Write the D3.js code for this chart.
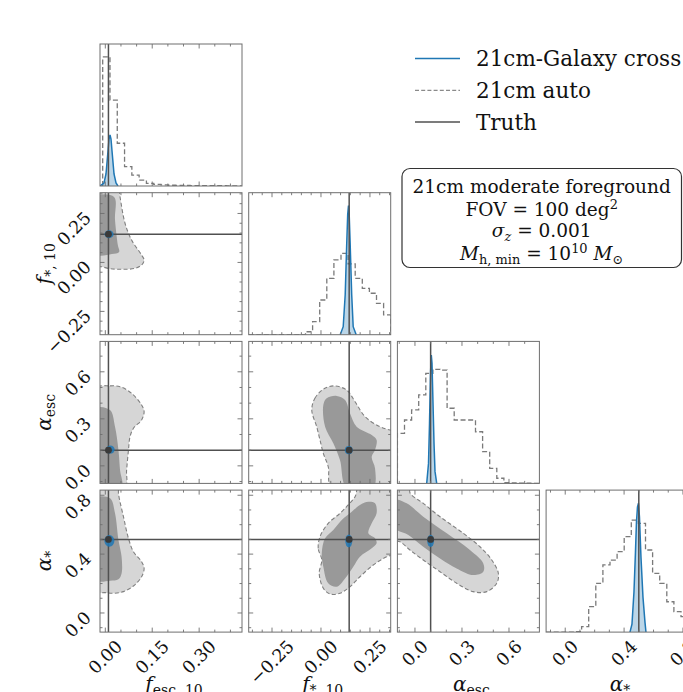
<!DOCTYPE html>
<html><head><meta charset="utf-8">
<script src="https://cdn.jsdelivr.net/npm/d3@7"></script>
<style>
body{margin:0;background:#fff}
svg{display:block}
text{font-family:"DejaVu Serif",serif;fill:#111}
</style></head>
<body><svg id="c" width="683" height="692"></svg>
<script>
// ---- parameters: f_esc,10 , f_*,10 , alpha_esc , alpha_*
const truthValues = [0.01, 0.144, 0.10, 0.50];
const axisRanges = [[-0.017, 0.437], [-0.369, 0.356], [-0.112, 0.794], [-0.13, 0.835]];
const majorTicks = [[0, 0.15, 0.30], [-0.25, 0, 0.25], [0, 0.3, 0.6], [0, 0.4, 0.8]];
const majorTickText = [["0.00", "0.15", "0.30"], ["\u22120.25", "0.00", "0.25"], ["0.0", "0.3", "0.6"], ["0.0", "0.4", "0.8"]];
const minorTickStep = [0.05, 0.05, 0.1, 0.1];

// ---- 21cm auto: 1D marginal step histograms (bin start, bin width, normalised counts)
const autoBinStart = [-0.0084, -0.369, -0.112, -0.13];
const autoBinWidth = [0.0233, 0.03625, 0.0453, 0.04825];
const autoCountsFesc = [1.0, 0.666, 0.331, 0.150, 0.085, 0.046, 0.021, 0.012, 0.008, 0.006, 0.005, 0.004, 0.003, 0.003, 0.002, 0.002, 0.002, 0.001, 0.001];
const autoCountsFstar = [0, 0, 0, 0, 0, 0, 0, 0, 0.023, 0.101, 0.269, 0.437, 0.579, 0.63, 0.548, 0.437, 0.359, 0.321, 0.243, 0.153];
const autoCountsAesc = [0.388, 0.491, 0.569, 0.685, 0.853, 0.884, 0.878, 0.582, 0.491, 0.491, 0.491, 0.40, 0.246, 0.117, 0.04, 0.006, 0.004, 0.002, 0.001, 0];
const autoCountsAstar = [0, 0, 0, 0, 0.004, 0.042, 0.197, 0.378, 0.52, 0.558, 0.623, 0.739, 0.868, 0.843, 0.636, 0.455, 0.378, 0.235, 0.158, 0.12];

// ---- 21cm-Galaxy cross: 1D marginals
const crossFescX = [-0.017, -0.0042, 0.0022, 0.0086, 0.0118, 0.015, 0.0182, 0.0214, 0.0278, 0.0342, 0.0405];
const crossFescY = [0, 0.023, 0.093, 0.271, 0.364, 0.395, 0.364, 0.271, 0.093, 0.023, 0];
const crossFstarX = [0.0982, 0.1135, 0.1237, 0.1313, 0.1364, 0.1405, 0.1441, 0.1492, 0.1569, 0.1645, 0.1798];
const crossFstarY = [0, 0.062, 0.31, 0.697, 0.93, 1.0, 0.93, 0.697, 0.31, 0.062, 0];
const crossAescX = [0.075, 0.0865, 0.0929, 0.0992, 0.1043, 0.1088, 0.1152, 0.1216, 0.1279, 0.1388];
const crossAescY = [0, 0.155, 0.465, 0.852, 0.995, 0.93, 0.62, 0.31, 0.093, 0];
const crossAstarX = [0.44, 0.4536, 0.4671, 0.4773, 0.4841, 0.4909, 0.4977, 0.5045, 0.5147, 0.5283, 0.5419, 0.5487];
const crossAstarY = [0, 0.062, 0.31, 0.62, 0.852, 0.968, 0.998, 0.891, 0.581, 0.271, 0.077, 0];

// ---- 21cm auto: 2D credible regions (outer = 95%, inner = 68%), keyed "x,y"
const autoOuter = {
  "0,1": [[-0.03,0.40],[0.04,0.40],[0.047,0.335],[0.063,0.20],[0.084,0.114],[0.116,0.038],[0.124,0.012],[0.116,-0.013],[0.095,-0.030],[0.058,-0.035],[0.015,-0.032],[-0.012,-0.022],[-0.03,-0.02]],
  "0,2": [[-0.03,0.495],[0.015,0.51],[0.047,0.505],[0.084,0.463],[0.116,0.388],[0.124,0.346],[0.116,0.293],[0.090,0.240],[0.079,0.186],[0.074,0.101],[0.068,-0.027],[0.063,-0.14],[-0.03,-0.14]],
  "0,3": [[-0.03,0.88],[0.041,0.88],[0.042,0.813],[0.058,0.654],[0.074,0.507],[0.090,0.416],[0.116,0.348],[0.124,0.303],[0.116,0.246],[0.090,0.183],[0.058,0.145],[0.026,0.134],[-0.001,0.138],[-0.03,0.145]],
  "1,2": [[-0.047,0.356],[-0.031,0.431],[0.012,0.489],[0.063,0.510],[0.131,0.484],[0.174,0.409],[0.225,0.314],[0.301,0.250],[0.352,0.229],[0.40,0.22],[0.40,-0.14],[0.055,-0.14],[0.037,-0.005],[0.012,0.08],[-0.005,0.165],[-0.022,0.250]],
  "1,3": [[0.004,0.360],[-0.014,0.439],[-0.005,0.518],[0.037,0.609],[0.097,0.677],[0.139,0.734],[0.174,0.790],[0.199,0.88],[0.40,0.88],[0.40,0.416],[0.335,0.382],[0.267,0.326],[0.199,0.246],[0.148,0.178],[0.097,0.134],[0.046,0.129],[0.012,0.168],[-0.009,0.270]],
  "2,3": [[-0.14,0.88],[-0.03,0.88],[-0.032,0.817],[0.053,0.745],[0.160,0.654],[0.309,0.541],[0.415,0.450],[0.490,0.360],[0.532,0.270],[0.522,0.202],[0.458,0.145],[0.372,0.145],[0.266,0.202],[0.160,0.280],[0.053,0.360],[-0.032,0.428],[-0.095,0.484],[-0.14,0.496]]
};
const autoInner = {
  "0,1": [[-0.03,0.334],[0.028,0.334],[0.031,0.217],[0.040,0.089],[0.044,0.053],[0.021,0.043],[-0.03,0.043]],
  "0,2": [[-0.03,0.367],[0.015,0.356],[0.031,0.250],[0.042,0.101],[0.047,-0.027],[0.052,-0.14],[-0.03,-0.14]],
  "0,3": [[-0.03,0.779],[0.015,0.779],[0.031,0.677],[0.042,0.496],[0.052,0.382],[0.052,0.269],[0.042,0.229],[0.015,0.219],[-0.03,0.224]],
  "1,2": [[0.012,0.388],[0.029,0.431],[0.080,0.446],[0.123,0.420],[0.148,0.335],[0.182,0.250],[0.259,0.197],[0.284,0.165],[0.276,0.101],[0.259,0.058],[0.276,-0.016],[0.267,-0.14],[0.131,-0.14],[0.097,0.037],[0.063,0.144],[0.021,0.250]],
  "1,3": [[0.012,0.314],[0.004,0.405],[0.021,0.507],[0.063,0.564],[0.106,0.632],[0.157,0.688],[0.199,0.734],[0.242,0.756],[0.276,0.745],[0.284,0.677],[0.259,0.609],[0.242,0.541],[0.276,0.507],[0.284,0.473],[0.259,0.439],[0.199,0.382],[0.165,0.314],[0.123,0.235],[0.080,0.178],[0.037,0.202]],
  "2,3": [[-0.14,0.767],[-0.053,0.745],[0.053,0.654],[0.203,0.541],[0.351,0.428],[0.436,0.337],[0.436,0.280],[0.372,0.258],[0.266,0.303],[0.160,0.371],[0.053,0.450],[-0.042,0.530],[-0.14,0.586]]
};
// ---- 21cm-Galaxy cross: compact 2D regions [centre x, centre y, half-width x, half-width y]
const crossEllipse = {
  "0,1": [0.012, 0.144, 0.0144, 0.020],
  "0,2": [0.016, 0.104, 0.014, 0.026],
  "0,3": [0.013, 0.49, 0.016, 0.040],
  "1,2": [0.142, 0.100, 0.020, 0.026],
  "1,3": [0.142, 0.49, 0.018, 0.044],
  "2,3": [0.100, 0.49, 0.022, 0.041]
};

const legendItems = ["21cm-Galaxy cross", "21cm auto", "Truth"];

// ---------------- layout ----------------
const S = 142;
const colLeft = [100, 248.7, 397.4, 546.1];
const rowTop = [44, 192.7, 341.4, 490.1];
const BLUE = "#1f77b4", TRUTH = "#505050", FRAME = "#6e6e6e";

const svg = d3.select("#c");
const defs = svg.append("defs");

const xs = axisRanges.map((r, i) => d3.scaleLinear().domain(r).range([colLeft[i], colLeft[i] + S]));
const ys = axisRanges.map((r, j) => d3.scaleLinear().domain(r).range([rowTop[j] + S, rowTop[j]]));
const histCounts = [autoCountsFesc, autoCountsFstar, autoCountsAesc, autoCountsAstar];
const crossXs = [crossFescX, crossFstarX, crossAescX, crossAstarX];
const crossYs = [crossFescY, crossFstarY, crossAescY, crossAstarY];

function clipFor(i, j) {
  const id = `clip${i}${j}`;
  defs.append("clipPath").attr("id", id).append("rect")
    .attr("x", colLeft[i]).attr("y", rowTop[j]).attr("width", S).attr("height", S);
  return `url(#${id})`;
}

function ticksFor(k) {
  const [a, b] = axisRanges[k];
  const st = minorTickStep[k];
  const out = [];
  for (let v = Math.ceil(a / st) * st; v <= b + 1e-9; v += st) out.push(+v.toFixed(6));
  return out;
}

function drawTicks(g, i, j, isHist) {
  const x = xs[i];
  const x0 = colLeft[i], y0 = rowTop[j];
  const isMajor = (k, v) => majorTicks[k].some(m => Math.abs(m - v) < 1e-6);
  ticksFor(i).forEach(v => {
    const len = isMajor(i, v) ? 4.5 : 2.5;
    const px = x(v);
    g.append("line").attr("x1", px).attr("x2", px).attr("y1", y0 + S).attr("y2", y0 + S - len);
    g.append("line").attr("x1", px).attr("x2", px).attr("y1", y0).attr("y2", y0 + len);
  });
  if (!isHist) {
    const y = ys[j];
    ticksFor(j).forEach(v => {
      const len = isMajor(j, v) ? 4.5 : 2.5;
      const py = y(v);
      g.append("line").attr("x1", x0).attr("x2", x0 + len).attr("y1", py).attr("y2", py);
      g.append("line").attr("x1", x0 + S).attr("x2", x0 + S - len).attr("y1", py).attr("y2", py);
    });
  }
  g.selectAll("line").attr("stroke", FRAME).attr("stroke-width", 0.9);
}

// ---------------- diagonal: 1D marginals ----------------
for (let k = 0; k < 4; k++) {
  const g = svg.append("g");
  const inner = g.append("g").attr("clip-path", clipFor(k, k));
  const x = xs[k];
  const y = d3.scaleLinear().domain([0, 1.1]).range([rowTop[k] + S, rowTop[k]]);
  // step histogram
  const counts = histCounts[k];
  const pts = [[autoBinStart[k], 0]];
  counts.forEach((c, b) => {
    const e0 = autoBinStart[k] + b * autoBinWidth[k];
    pts.push([e0, c], [e0 + autoBinWidth[k], c]);
  });
  pts.push([autoBinStart[k] + counts.length * autoBinWidth[k], 0]);
  inner.append("path")
    .attr("d", d3.line().x(d => x(d[0])).y(d => y(d[1]))(pts))
    .attr("fill", "none").attr("stroke", "#7a7a7a").attr("stroke-width", 1.3)
    .attr("stroke-dasharray", "5,2.6");
  // cross marginal
  const cp = crossXs[k].map((v, n) => [v, crossYs[k][n]]);
  inner.append("path")
    .attr("d", d3.area().x(d => x(d[0])).y0(y(0)).y1(d => y(d[1]))(cp))
    .attr("fill", BLUE).attr("fill-opacity", 0.3);
  inner.append("path")
    .attr("d", d3.line().x(d => x(d[0])).y(d => y(d[1]))(cp))
    .attr("fill", "none").attr("stroke", BLUE).attr("stroke-width", 1.5);
  // truth
  inner.append("line").attr("x1", x(truthValues[k])).attr("x2", x(truthValues[k]))
    .attr("y1", rowTop[k]).attr("y2", rowTop[k] + S)
    .attr("stroke", TRUTH).attr("stroke-width", 1.5);
  g.append("rect").attr("x", colLeft[k]).attr("y", rowTop[k]).attr("width", S).attr("height", S)
    .attr("fill", "none").attr("stroke", FRAME).attr("stroke-width", 1);
  drawTicks(g.append("g"), k, k, true);
}

// ---------------- lower triangle: 2D regions ----------------
const smooth = d3.curveCatmullRomClosed.alpha(0.5);
for (let j = 1; j < 4; j++) {
  for (let i = 0; i < j; i++) {
    const key = `${i},${j}`;
    const x = xs[i], y = ys[j];
    const g = svg.append("g");
    const inner = g.append("g").attr("clip-path", clipFor(i, j));
    const shape = d3.line().x(d => x(d[0])).y(d => y(d[1])).curve(smooth);
    inner.append("path").attr("d", shape(autoOuter[key])).attr("fill", "#d6d6d6");
    inner.append("path").attr("d", shape(autoInner[key])).attr("fill", "#999999");
    inner.append("path").attr("d", shape(autoOuter[key])).attr("fill", "none")
      .attr("stroke", "#808080").attr("stroke-width", 1.1).attr("stroke-dasharray", "4,2.4");
    // truth crosshair
    inner.append("line").attr("x1", x(truthValues[i])).attr("x2", x(truthValues[i]))
      .attr("y1", rowTop[j]).attr("y2", rowTop[j] + S).attr("stroke", TRUTH).attr("stroke-width", 1.5);
    inner.append("line").attr("y1", y(truthValues[j])).attr("y2", y(truthValues[j]))
      .attr("x1", colLeft[i]).attr("x2", colLeft[i] + S).attr("stroke", TRUTH).attr("stroke-width", 1.5);
    // cross-correlation region
    const [cx, cy, rx, ry] = crossEllipse[key];
    inner.append("ellipse").attr("cx", x(cx)).attr("cy", y(cy))
      .attr("rx", x(cx + rx) - x(cx)).attr("ry", y(cy) - y(cy + ry))
      .attr("fill", BLUE).attr("fill-opacity", 0.85);
    inner.append("circle").attr("cx", x(truthValues[i])).attr("cy", y(truthValues[j]))
      .attr("r", 3.4).attr("fill", "#3a3a3a");
    g.append("rect").attr("x", colLeft[i]).attr("y", rowTop[j]).attr("width", S).attr("height", S)
      .attr("fill", "none").attr("stroke", FRAME).attr("stroke-width", 1);
    drawTicks(g.append("g"), i, j, false);
  }
}

// ---------------- tick labels (rotated 45 deg) ----------------
// x labels: rotated box centred under the tick, top at the axis;
// y labels: rotated box right-aligned, hanging from the tick (baseline-centred alignment)
const TFS = 17.5;
function rotatedLabel(txt, ax, ay, side) {
  const t = svg.append("text").text(txt).attr("font-size", TFS)
    .attr("text-anchor", "middle").attr("dominant-baseline", "central");
  const L = t.node().getComputedTextLength();
  const Hl = TFS * 1.0, asc = TFS * 0.76;
  const half = (L + Hl) / (2 * Math.SQRT2);
  let cx, cy;
  if (side === "bottom") { cx = ax; cy = ay + 5 + half; }
  else { cx = ax - 6 - half; cy = ay - asc / 2 + half + 2; }
  t.attr("x", cx).attr("y", cy).attr("transform", `rotate(-45,${cx},${cy})`);
}
for (let k = 0; k < 4; k++) {
  majorTicks[k].forEach((v, n) => rotatedLabel(majorTickText[k][n], xs[k](v), rowTop[3] + S, "bottom"));
}
for (let j = 1; j < 4; j++) {
  majorTicks[j].forEach((v, n) => rotatedLabel(majorTickText[j][n], colLeft[0], ys[j](v), "left"));
}

// ---------------- axis titles ----------------
// parts: [text, style] where style is "i" (italic), "r" (roman), "s" (subscript), "si" (italic subscript), "p" (superscript)
const axisTitleParts = [
  [["f", "i"], ["esc, 10", "s"]],
  [["f", "i"], ["*, 10", "s"]],
  [["α", "i"], ["esc", "s"]],
  [["α", "i"], ["*", "s"]]
];
function mathText(sel, parts, fs) {
  let shifted = false;
  parts.forEach(([txt, st]) => {
    const ts = sel.append("tspan").text(txt);
    if (st === "i") ts.attr("font-style", "italic");
    if (st === "s" || st === "si") {
      ts.attr("font-size", fs * 0.7);
      if (st === "si") ts.attr("font-style", "italic");
      if (!shifted) { ts.attr("dy", fs * 0.22); shifted = true; }
    } else if (st === "p") {
      ts.attr("font-size", fs * 0.7);
      ts.attr("dy", shifted ? -fs * 0.6 : -fs * 0.38); shifted = "up";
    } else if (shifted) {
      ts.attr("dy", shifted === "up" ? fs * 0.38 : -fs * 0.22); shifted = false;
    }
  });
  return sel;
}
const AFS = 20;
for (let k = 0; k < 4; k++) {
  const t = svg.append("text").attr("font-size", AFS).attr("text-anchor", "middle")
    .attr("x", colLeft[k] + S / 2 + 3).attr("y", 691);
  mathText(t, axisTitleParts[k], AFS);
}
for (let j = 1; j < 4; j++) {
  const cx = 51, cy = rowTop[j] + S / 2;
  const t = svg.append("text").attr("font-size", AFS).attr("text-anchor", "middle")
    .attr("x", cx).attr("y", cy).attr("transform", `rotate(-90,${cx},${cy})`);
  mathText(t, axisTitleParts[j], AFS);
}

// ---------------- legend ----------------
const legendStyles = [
  { stroke: BLUE, dash: null, w: 1.6 },
  { stroke: "#8a8a8a", dash: "4,2.2", w: 1.2 },
  { stroke: TRUTH, dash: null, w: 1.5 }
];
legendItems.forEach((name, n) => {
  const yy = 58.5 + n * 31.8;
  const st = legendStyles[n];
  const l = svg.append("line").attr("x1", 415).attr("x2", 460).attr("y1", yy).attr("y2", yy)
    .attr("stroke", st.stroke).attr("stroke-width", st.w);
  if (st.dash) l.attr("stroke-dasharray", st.dash);
  svg.append("text").attr("x", 476).attr("y", yy + 7.5).attr("font-size", 21.5).text(name);
});

// ---------------- annotation box ----------------
svg.append("rect").attr("x", 402).attr("y", 168.5).attr("width", 279.5).attr("height", 99)
  .attr("rx", 8).attr("fill", "#fff").attr("stroke", "#333").attr("stroke-width", 1.2);
const BFS = 18.5, bx = 541.7;
svg.append("text").attr("x", bx).attr("y", 193).attr("font-size", BFS).attr("text-anchor", "middle")
  .text("21cm moderate foreground");
mathText(svg.append("text").attr("x", bx).attr("y", 216).attr("font-size", BFS).attr("text-anchor", "middle"),
  [["FOV = 100 deg", "r"], ["2", "p"]], BFS);
mathText(svg.append("text").attr("x", bx).attr("y", 237).attr("font-size", BFS).attr("text-anchor", "middle"),
  [["σ", "i"], ["z", "si"], [" = 0.001", "r"]], BFS);
mathText(svg.append("text").attr("x", bx).attr("y", 260).attr("font-size", BFS).attr("text-anchor", "middle"),
  [["M", "i"], ["h, min", "s"], [" = 10", "r"], ["10", "p"], [" ", "r"], ["M", "i"], ["⊙", "s"]], BFS);
</script></body></html>
